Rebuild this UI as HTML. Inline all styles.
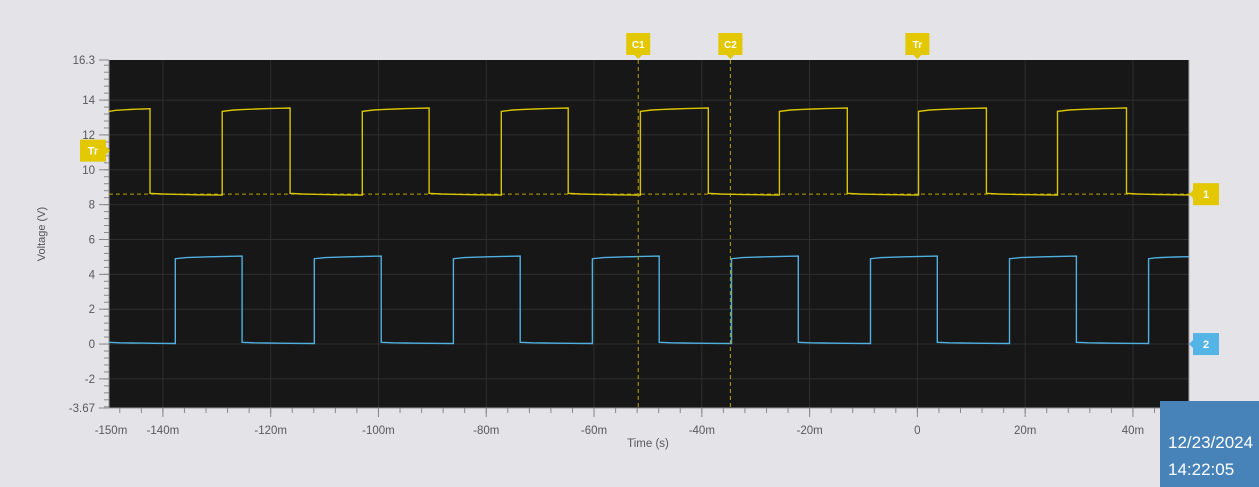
<!DOCTYPE html>
<html><head><meta charset="utf-8"><style>
body{margin:0;background:#e3e3e8;font-family:"Liberation Sans",sans-serif;}
#wrap{position:relative;width:1259px;height:487px;overflow:hidden;}
svg text{font-family:"Liberation Sans",sans-serif;}
#ts{position:absolute;left:1160px;top:401px;width:99px;height:86px;background:#4783b8;color:#fff;font-size:17px;line-height:27px;padding:28px 0 0 8px;box-sizing:border-box;white-space:nowrap;overflow:hidden;}
</style></head><body>
<div id="wrap">
<svg id="svg" width="1259" height="487"></svg>
<div id="ts">12/23/2024<br>14:22:05</div>
</div>
<script>
const xTicks=[-140,-120,-100,-80,-60,-40,-20,0,20,40];
const yTicks=[-2,0,2,4,6,8,10,12,14];
const yRise=[-129.0,-103.0,-77.2,-51.4,-25.6,0.2,26.0];
const yFall=[-142.4,-116.4,-90.6,-64.8,-38.8,-13.0,12.8,38.8];
const yHigh=[13.35,13.55];
const yLow=[8.65,8.55];
const bRise=[-137.7,-111.9,-86.1,-60.3,-34.5,-8.7,17.1,42.9];
const bFall=[-125.3,-99.5,-73.7,-47.9,-22.1,3.7,29.5];
const bHigh=[4.9,5.05];
const bLow=[0.1,0.03];
const cursors=[["C1",-51.8],["C2",-34.7],["Tr",0]];
const trigLevel=8.6;
const xMin=-150,xMax=50.4,vMin=-3.67,vMax=16.3;
const L=109,R=1189,T=60,B=408;
const sx=t=>L+(t-xMin)/(xMax-xMin)*(R-L);
const sy=v=>B-(v-vMin)/(vMax-vMin)*(B-T);
const svg=document.getElementById('svg');
const NS='http://www.w3.org/2000/svg';
function mk(tag,at,parent){const e=document.createElementNS(NS,tag);for(const k in at)e.setAttribute(k,at[k]);(parent||svg).appendChild(e);return e;}
let e=mk('rect',{x:L,y:T,width:R-L,height:B-T,fill:'#171717'});


xTicks.forEach(t=>{let g=mk('line',{x1:sx(t),x2:sx(t),y1:T,y2:B,stroke:'#2e2e2e','stroke-width':1});

});
yTicks.forEach(v=>{let g=mk('line',{x1:L,x2:R,y1:sy(v),y2:sy(v),stroke:'#2e2e2e','stroke-width':1});

});
mk('line',{x1:L,x2:L,y1:T,y2:B,stroke:'#999'});
mk('line',{x1:L,x2:R,y1:B,y2:B,stroke:'#999'});
mk('line',{x1:R,x2:R,y1:T,y2:B,stroke:'#aaa'});
for(let t=-148;t<=50;t+=4){mk('line',{x1:sx(t),x2:sx(t),y1:B,y2:B+5,stroke:'#888'});}
xTicks.forEach(t=>mk('line',{x1:sx(t),x2:sx(t),y1:B,y2:B+9,stroke:'#888'}));
for(let v=-3.6;v<=16.3;v+=0.4){mk('line',{x1:L-5,x2:L,y1:sy(v),y2:sy(v),stroke:'#888'});}
yTicks.concat([vMin,vMax]).forEach(v=>mk('line',{x1:L-10,x2:L,y1:sy(v),y2:sy(v),stroke:'#888'}));
function lab(x,y,s,anchor,name){let t=mk('text',{x:x,y:y,'font-size':11.5,fill:'#5a5a5a','text-anchor':anchor});t.textContent=s;

}
yTicks.forEach(v=>lab(L-14,sy(v)+4,String(v),'end','y-tick-label'));
lab(L-14,sy(vMax)+4,'16.3','end','y-tick-label');
lab(L-14,sy(vMin)+4,'-3.67','end','y-tick-label');
xTicks.forEach(t=>lab(sx(t),sy(vMin)+26,(t===0?'0':t+'m'),'middle','x-tick-label'));
lab(sx(-150)+2,434,'-150m','middle','x-tick-label');
lab(sx(50.4)-6,434,'50.4m','middle','x-tick-label');
lab(648,447,'Time (s)','middle','x-axis-title');
let yt=mk('text',{x:0,y:0,'font-size':11,fill:'#555','text-anchor':'middle',transform:'translate(45,234) rotate(-90)'});yt.textContent='Voltage (V)';


e=mk('line',{x1:L,x2:R,y1:sy(trigLevel),y2:sy(trigLevel),stroke:'#b8a400','stroke-dasharray':'4,3','stroke-width':1});


function wave(rise,fall,hi,lo,startHigh){
  const ev=rise.map(t=>[t,1]).concat(fall.map(t=>[t,0])).sort((a,b)=>a[0]-b[0]);
  let state=startHigh?1:0,t0=xMin,pts=[];
  const seg=(a,b,s)=>{const lv=s?hi:lo;const full=rise.length>1?(rise[1]-rise[0]):25.8;
    const n=6;for(let i=0;i<=n;i++){const t=a+(b-a)*i/n;const f=Math.min(1,(t-a)/(full/2));pts.push([sx(t),sy(lv[0]+(lv[1]-lv[0])*Math.sqrt(f))]);}};
  ev.forEach(([t,s])=>{seg(t0,t,state);state=s;t0=t;});
  seg(t0,xMax,state);
  return pts.map(p=>p[0].toFixed(1)+','+p[1].toFixed(1)).join(' ');
}
e=mk('polyline',{points:wave(yRise,yFall,yHigh,yLow,true),fill:'none',stroke:'#d9c400','stroke-width':1.4});


e=mk('polyline',{points:wave(bRise,bFall,bHigh,bLow,false),fill:'none',stroke:'#4fb0e0','stroke-width':1.4});


cursors.forEach(([n,t])=>{
  if(n!=='Tr'){let c=mk('line',{x1:sx(t),x2:sx(t),y1:T,y2:B,stroke:'#b8a400','stroke-dasharray':'4,3'});
  
  }
  let g=mk('g',{});
  
  
  mk('rect',{x:sx(t)-12,y:33,width:24,height:22,fill:'#e3c800'},g);
  mk('polygon',{points:`${sx(t)-4},55 ${sx(t)+4},55 ${sx(t)},59`,fill:'#e3c800'},g);
  let tx=mk('text',{x:sx(t),y:48,'font-size':10,'font-weight':'bold',fill:'#fff','text-anchor':'middle'},g);tx.textContent=n;
});
function marker(x,y,txt,col,name,right){let g=mk('g',{});
  
  
  mk('rect',{x:x,y:y-11,width:26,height:22,fill:col},g);
  if(right)mk('polygon',{points:`${x},${y-4} ${x},${y+4} ${x-4},${y}`,fill:col},g);
  else mk('polygon',{points:`${x+26},${y-4} ${x+26},${y+4} ${x+30},${y}`,fill:col},g);
  let t=mk('text',{x:x+13,y:y+4,'font-size':11,'font-weight':'bold',fill:'#fff','text-anchor':'middle'},g);t.textContent=txt;}
marker(80,sy(11.1),'Tr','#e3c800','trigger-level-marker',false);
marker(1193,sy(trigLevel),'1','#e3c800','channel-1-marker',true);
marker(1193,sy(0),'2','#55b4e6','channel-2-marker',true);
</script>
</body></html>
